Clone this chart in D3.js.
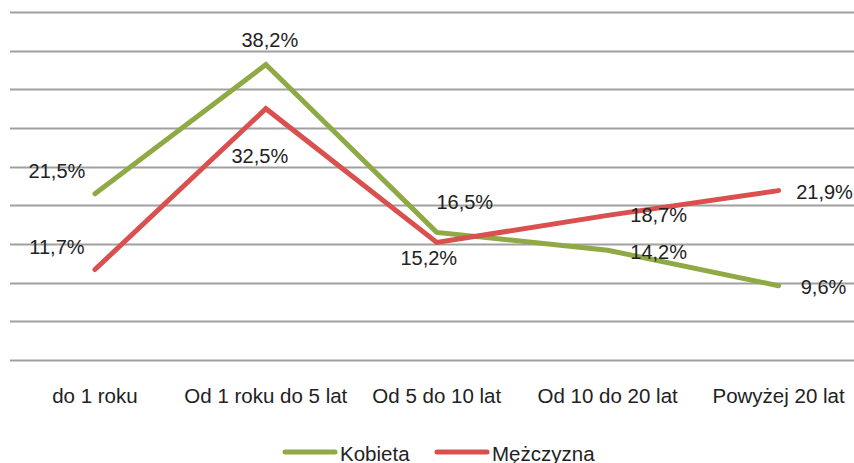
<!DOCTYPE html>
<html>
<head>
<meta charset="utf-8">
<script src="https://cdn.jsdelivr.net/npm/d3@7"></script>
<style>
  body { margin: 0; background: #fff; }
  text { font-family: "Liberation Sans", Arial, sans-serif; fill: #222; }
</style>
</head>
<body>
<div id="chart"></div>
<script>
  var categories = ['do 1 roku', 'Od 1 roku do 5 lat', 'Od 5 do 10 lat', 'Od 10 do 20 lat', 'Powyżej 20 lat'];
  var kobieta = [21.5, 38.2, 16.5, 14.2, 9.6];
  var mezczyzna = [11.7, 32.5, 15.2, 18.7, 21.9];
  var seriesNames = ['Kobieta', 'Mężczyzna'];
  var yTicks = [0, 5, 10, 15, 20, 25, 30, 35, 40, 45];

  var width = 854, height = 463;
  var colors = ['#8fa944', '#d9504e'];

  // label offsets per series / point (dx, dy from the point)
  var labelOffK = [[-38, -23], [4, -25], [28, -31], [51, 2], [45, 1]];
  var labelOffM = [[-38, -23], [-6, 47], [-8, 15], [51, -1], [46, 1]];

  var svg = d3.select('#chart').append('svg')
    .attr('width', width)
    .attr('height', height);

  var x = d3.scalePoint()
    .domain(categories)
    .range([9.5, 864])
    .padding(0.5);

  var y = d3.scaleLinear()
    .domain([0, 45])
    .range([360, 12]);

  svg.append('g').selectAll('line')
    .data(yTicks)
    .enter()
    .append('line')
    .attr('x1', 10)
    .attr('x2', width)
    .attr('y1', function (d) { return Math.round(y(d)) + 0.5; })
    .attr('y2', function (d) { return Math.round(y(d)) + 0.5; })
    .attr('stroke', '#a0a0a0')
    .attr('stroke-width', 2);

  svg.append('g').selectAll('text')
    .data(categories)
    .enter()
    .append('text')
    .attr('x', function (d) { return x(d); })
    .attr('y', 403)
    .attr('text-anchor', 'middle')
    .attr('font-size', 20.5)
    .text(function (d) { return d; });

  var line = d3.line()
    .x(function (d, i) { return x(categories[i]); })
    .y(function (d) { return y(d); });

  var series = [kobieta, mezczyzna];
  var offsets = [labelOffK, labelOffM];

  series.forEach(function (vals, s) {
    svg.append('path')
      .datum(vals)
      .attr('d', line)
      .attr('fill', 'none')
      .attr('stroke', colors[s])
      .attr('stroke-width', 5)
      .attr('stroke-linejoin', 'miter')
      .attr('stroke-linecap', 'round');
  });

  series.forEach(function (vals, s) {
    svg.append('g').selectAll('text')
      .data(vals)
      .enter()
      .append('text')
      .attr('x', function (d, i) { return x(categories[i]) + offsets[s][i][0]; })
      .attr('y', function (d, i) { return y(d) + offsets[s][i][1]; })
      .attr('text-anchor', 'middle')
      .attr('dy', '0.36em')
      .attr('font-size', 20)
      .text(function (d) { return String(d.toFixed(1)).replace('.', ',') + '%'; });
  });

  // legend
  var legend = svg.append('g');
  var legX = [283, 435];
  seriesNames.forEach(function (name, i) {
    legend.append('line')
      .attr('x1', legX[i] + 2)
      .attr('x2', legX[i] + 52)
      .attr('y1', 452)
      .attr('y2', 452)
      .attr('stroke', colors[i])
      .attr('stroke-width', 5)
      .attr('stroke-linecap', 'round');
    legend.append('text')
      .attr('x', legX[i] + 57)
      .attr('y', 461)
      .attr('font-size', 20.5)
      .text(name);
  });
</script>
</body>
</html>
